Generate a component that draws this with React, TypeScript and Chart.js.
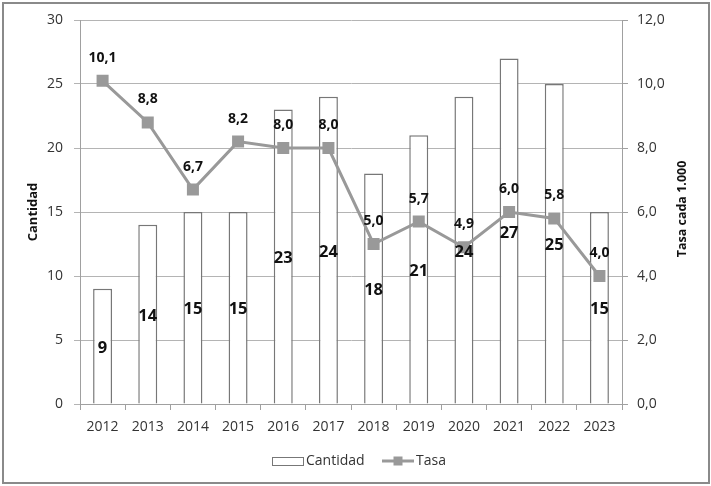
import React, { useEffect, useRef } from "react";
import { Chart, registerables } from "chart.js";

Chart.register(...registerables);

const years = ["2012", "2013", "2014", "2015", "2016", "2017", "2018", "2019", "2020", "2021", "2022", "2023"];
const cantidad = [9, 14, 15, 15, 23, 24, 18, 21, 24, 27, 25, 15];
const tasa = [10.1, 8.8, 6.7, 8.2, 8.0, 8.0, 5.0, 5.7, 4.9, 6.0, 5.8, 4.0];

const FONT = "'Open Sans', 'DejaVu Sans', sans-serif";
const TEXT = "#333333";
const GRID = "#b4b4b4";
const AXIS = "#a0a0a0";
const LINE = "#999999";

const fmt = (v: number) => v.toFixed(1).replace(".", ",");

const decorations = {
  id: "decorations",
  afterDatasetsDraw(chart: any) {
    const ctx = chart.ctx;
    ctx.save();
    ctx.textAlign = "center";
    ctx.textBaseline = "middle";
    ctx.fillStyle = "#111111";
    // bar values, centred in each bar
    const barMeta = chart.getDatasetMeta(0);
    ctx.font = `bold 16.5px ${FONT}`;
    barMeta.data.forEach((el: any, i: number) => {
      ctx.fillText(String(cantidad[i]), el.x, (el.y + el.base) / 2 + 2);
    });
    // rate values, above each point
    const lineMeta = chart.getDatasetMeta(1);
    ctx.font = `bold 14px ${FONT}`;
    lineMeta.data.forEach((el: any, i: number) => {
      ctx.fillText(fmt(tasa[i]), el.x, el.y - 23);
    });
    ctx.restore();
  },
  afterDraw(chart: any) {
    const ctx = chart.ctx;
    const area = chart.chartArea;
    const midY = (area.top + area.bottom) / 2;
    ctx.save();
    // axis titles
    ctx.fillStyle = "#111111";
    ctx.textAlign = "center";
    ctx.textBaseline = "middle";
    ctx.font = `bold 13px ${FONT}`;
    ctx.translate(33, midY);
    ctx.rotate(-Math.PI / 2);
    ctx.fillText("Cantidad", 0, 0);
    ctx.setTransform(1, 0, 0, 1, 0, 0);
    ctx.font = `bold 12.5px ${FONT}`;
    ctx.translate(682, midY - 3);
    ctx.rotate(-Math.PI / 2);
    ctx.fillText("Tasa cada 1.000", 0, 0);
    ctx.setTransform(1, 0, 0, 1, 0, 0);

    // legend
    const ly = 461;
    ctx.fillStyle = "#ffffff";
    ctx.strokeStyle = "#777777";
    ctx.lineWidth = 1;
    ctx.fillRect(272, ly - 4, 32, 8);
    ctx.strokeRect(272.5, ly - 3.5, 31, 8);
    ctx.fillStyle = TEXT;
    ctx.font = `14px ${FONT}`;
    ctx.textAlign = "left";
    ctx.fillText("Cantidad", 306, ly);
    ctx.strokeStyle = LINE;
    ctx.lineWidth = 3;
    ctx.beginPath();
    ctx.moveTo(382, ly);
    ctx.lineTo(414, ly);
    ctx.stroke();
    ctx.fillStyle = LINE;
    ctx.fillRect(393.5, ly - 4.5, 9, 9);
    ctx.fillStyle = TEXT;
    ctx.fillText("Tasa", 416, ly);

    // outer frame
    ctx.strokeStyle = "#8a8a8a";
    ctx.lineWidth = 2;
    ctx.strokeRect(3, 3, 706, 480);
    ctx.restore();
  },
};

export default function App() {
  const ref = useRef<HTMLCanvasElement | null>(null);

  useEffect(() => {
    document.body.style.margin = "0";
    const canvas = ref.current;
    if (!canvas) return;
    const chart = new Chart(canvas, {
      type: "bar",
      data: {
        labels: years,
        datasets: [
          {
            type: "bar",
            label: "Cantidad",
            data: cantidad,
            backgroundColor: "#ffffff",
            borderColor: "#777777",
            borderWidth: 1.5,
            barPercentage: 0.42,
            categoryPercentage: 1,
            yAxisID: "y",
            order: 1,
          } as any,
          {
            type: "line",
            label: "Tasa",
            data: tasa,
            borderColor: LINE,
            backgroundColor: LINE,
            borderWidth: 3,
            pointStyle: "rect",
            pointRadius: 8.5,
            pointBorderWidth: 0,
            pointBackgroundColor: LINE,
            tension: 0,
            yAxisID: "y1",
            order: 0,
          } as any,
        ],
      },
      options: {
        animation: false,
        responsive: false,
        devicePixelRatio: 1,
        layout: { padding: { top: 20, left: 0, right: 0, bottom: 0 } },
        plugins: {
          legend: { display: false },
          tooltip: { enabled: false },
        },
        scales: {
          x: {
            offset: true,
            grid: {
              offset: true,
              drawOnChartArea: false,
              drawTicks: true,
              tickLength: 6,
              color: AXIS,
            },
            border: { color: AXIS, width: 1 },
            ticks: { color: TEXT, font: { family: FONT, size: 14 }, padding: 9, maxRotation: 0 },
            afterFit: (s: any) => {
              s.height = 82;
            },
          },
          y: {
            position: "left",
            min: 0,
            max: 30,
            ticks: { stepSize: 5, color: TEXT, font: { family: FONT, size: 14 }, padding: 11 },
            grid: { color: GRID, tickLength: 6, lineWidth: 1 },
            border: { color: AXIS, width: 1 },
            afterFit: (s: any) => {
              s.width = 80;
            },
          },
          y1: {
            position: "right",
            min: 0,
            max: 12,
            ticks: {
              stepSize: 2,
              color: TEXT,
              font: { family: FONT, size: 14 },
              padding: 9,
              callback: (v: any) => fmt(Number(v)),
            },
            grid: { drawOnChartArea: false, tickLength: 6, color: AXIS },
            border: { color: AXIS, width: 1 },
            afterFit: (s: any) => {
              s.width = 89;
            },
          },
        },
      },
      plugins: [decorations],
    });
    return () => chart.destroy();
  }, []);

  return (
    <div style={{ width: 711, height: 486, background: "#ffffff" }}>
      <canvas ref={ref} width={711} height={486} style={{ display: "block" }} />
    </div>
  );
}
